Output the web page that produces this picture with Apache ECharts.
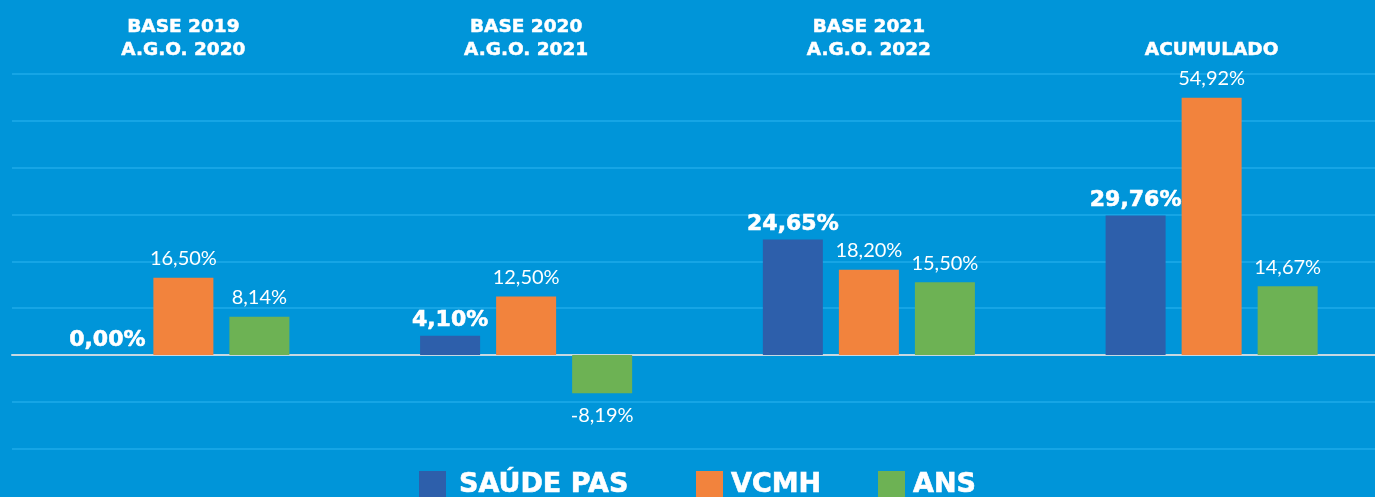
<!DOCTYPE html>
<html>
<head>
<meta charset="utf-8">
<script src="https://cdn.jsdelivr.net/npm/echarts@6/dist/echarts.min.js"></script>
<style>
html,body{margin:0;padding:0;background:#0095d9;}
#chart{width:1375px;height:497px;}
</style>
</head>
<body>
<div id="chart"></div>
<script>
const categories = ['BASE 2019\nA.G.O. 2020', 'BASE 2020\nA.G.O. 2021', 'BASE 2021\nA.G.O. 2022', 'ACUMULADO'];
const seriesNames = ['SAÚDE PAS', 'VCMH', 'ANS'];
const saudePas = [0.00, 4.10, 24.65, 29.76];
const vcmh = [16.50, 12.50, 18.20, 54.92];
const ans = [8.14, -8.19, 15.50, 14.67];
const yTicks = { min: -20, max: 60, interval: 10 };

const colors = ['#2d5fab', '#f2833d', '#6db254'];
const fmt = v => v.toFixed(2).replace('.', ',') + '%';

function mkData(arr) {
  return arr.map(v => v < 0 ? { value: v, label: { position: 'bottom', distance: 12 } } : v);
}

const regLabel = {
  show: true, position: 'top', distance: 9, color: '#ffffff',
  fontFamily: 'Lato', fontWeight: 'normal', fontSize: 20,
  formatter: p => fmt(p.value)
};
const boldLabel = {
  show: true, position: 'top', distance: 4, color: '#ffffff',
  fontFamily: 'DejaVu Sans', fontWeight: 'bold', fontSize: 22,
  textBorderColor: '#ffffff', textBorderWidth: 0.6,
  formatter: p => fmt(p.value)
};

const chart = echarts.init(document.getElementById('chart'), null, { renderer: 'canvas' });
function legendAt(left, name, gap) {
  return {
    left: left, top: 471, padding: 0, itemWidth: 27, itemHeight: 28, icon: 'rect',
    data: [name],
    textStyle: { color: '#ffffff', fontFamily: 'DejaVu Sans', fontWeight: 'bold', fontSize: 27,
      textBorderColor: '#ffffff', textBorderWidth: 0.6, padding: [0, 0, 0, gap] }
  };
}
chart.setOption({
  backgroundColor: '#0095d9',
  animation: false,
  grid: { left: 12, width: 1371, top: 74, bottom: 48.4, outerBoundsMode: 'none', containLabel: false },
  legend: [
    legendAt(419, seriesNames[0], 8),
    legendAt(696, seriesNames[1], 3),
    legendAt(878, seriesNames[2], 3)
  ],
  xAxis: [
    {
      type: 'category', data: categories, position: 'top',
      axisLine: { show: false, onZero: false }, axisTick: { show: false },
      axisLabel: { color: '#ffffff', fontFamily: 'DejaVu Sans', fontWeight: 'bold', fontSize: 18.5, lineHeight: 23, margin: 12,
        textBorderColor: '#ffffff', textBorderWidth: 0.5 }
    },
    {
      type: 'category', data: categories, position: 'bottom',
      axisLine: { show: true, onZero: true, lineStyle: { color: '#c6d8e2', width: 2 } },
      axisTick: { show: false }, axisLabel: { show: false }
    }
  ],
  yAxis: {
    type: 'value', min: yTicks.min, max: yTicks.max, interval: yTicks.interval,
    axisLabel: { show: false }, axisLine: { show: false }, axisTick: { show: false },
    splitLine: { show: true, lineStyle: { color: '#16a5e5', width: 2 } }
  },
  series: [
    { name: seriesNames[0], type: 'bar', data: mkData(saudePas), barWidth: 60, barGap: '26.7%', itemStyle: { color: colors[0] }, label: boldLabel, z: 3 },
    { name: seriesNames[1], type: 'bar', data: mkData(vcmh), barWidth: 60, barGap: '26.7%', itemStyle: { color: colors[1] }, label: regLabel, z: 3 },
    { name: seriesNames[2], type: 'bar', data: mkData(ans), barWidth: 60, barGap: '26.7%', itemStyle: { color: colors[2] }, label: regLabel, z: 3 }
  ]
});
</script>
</body>
</html>
